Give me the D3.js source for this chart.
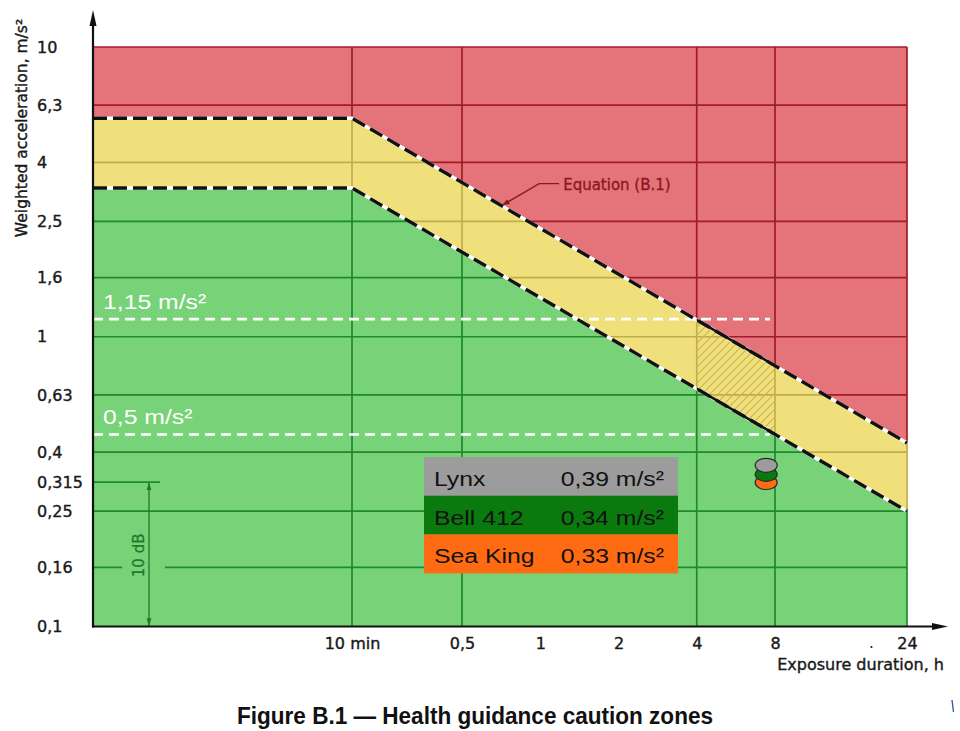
<!DOCTYPE html>
<html><head><meta charset="utf-8">
<script src="https://cdn.jsdelivr.net/npm/d3@7"></script>
<style>body{margin:0;background:#fff;} svg{display:block;}</style>
</head><body><svg id="chart" width="960" height="731"></svg>
<script>
// ---------- data ----------
const yTickValues = [10, 6.3, 4, 2.5, 1.6, 1, 0.63, 0.4, 0.315, 0.25, 0.16, 0.1];
const yTickLabels = ["10", "6,3", "4", "2,5", "1,6", "1", "0,63", "0,4", "0,315", "0,25", "0,16", "0,1"];
const yGridValues = [10, 6.3, 4, 2.5, 1.6, 1, 0.63, 0.4, 0.25];
const xTickValues = [1/6, 0.5, 1, 2, 4, 8, 24];
const xTickLabels = ["10 min", "0,5", "1", "2", "4", "8", "24"];
const xGridValues = [1/6, 0.5, 4, 8, 24];
const xBreaks = [1/60, 1/6, 0.5, 8, 24];           // hours, piecewise log axis
const upperDuration = [1/60, 1/6, 24];
const upperAccel = [5.68, 5.68, 0.43];
const lowerDuration = [1/60, 1/6, 24];
const lowerAccel = [3.26, 3.26, 0.25];
const hatchRange = [4, 8];
const guideValues = [1.15, 0.46];
const guideLabels = ["1,15 m/s²", "0,5 m/s²"];
const guideEnd = 7.65;
const aircraft = ["Lynx", "Bell 412", "Sea King"];
const aircraftValues = ["0,39", "0,34", "0,33"];
const aircraftColors = ["#9c9c9c", "#0a7a0e", "#ff6b12"];
const markerAccel = [0.36, 0.335, 0.314];
const markerDuration = 7.4;

// ---------- layout ----------
const svg = d3.select("#chart");
const xRange = [93, 352, 462, 775, 907];
const x = d3.scaleLog().domain(xBreaks).range(xRange);
const y = d3.scaleLog().domain([0.1, 10]).range([626.5, 47]);
const X0 = x(xBreaks[0]), X1 = x(xBreaks[xBreaks.length - 1]);
const Ytop = y(10), Ybot = y(0.1);

const colRed = "#e4737a", colYel = "#f0e07c", colGrn = "#77d278";
const gridRed = "#a01c28", gridYel = "#c2ad4e", gridGrn = "#1e8a2c";
const numFont = "'DejaVu Sans', sans-serif";
const arial = "'Liberation Sans', Arial, sans-serif";
const ink = "#1a1a1a";

const upperPx = upperDuration.map((t, i) => [x(t), y(upperAccel[i])]);
const lowerPx = lowerDuration.map((t, i) => [x(t), y(lowerAccel[i])]);
function yOnLine(pts, px) {
  for (let i = 0; i < pts.length - 1; i++) {
    const [ax, ay] = pts[i], [bx, by] = pts[i + 1];
    if (px >= ax && px <= bx) return ay + (by - ay) * (px - ax) / (bx - ax);
  }
  return pts[pts.length - 1][1];
}
const poly = p => "M" + p.map(d => d.join(",")).join("L") + "Z";

function zones(pad) {
  const up = upperPx.map(d => d.slice()), lo = lowerPx.map(d => d.slice());
  up[0][0] -= pad; lo[0][0] -= pad; up[up.length-1][0] += pad; lo[lo.length-1][0] += pad;
  return {
    red: [[X0 - pad, Ytop - pad], [X1 + pad, Ytop - pad], ...up.slice().reverse()],
    yel: [...up, ...lo.slice().reverse()],
    grn: [...lo, [X1 + pad, Ybot + pad], [X0 - pad, Ybot + pad]]
  };
}
const Z = zones(0), ZC = zones(4);

const defs = svg.append("defs");
[["clipRed", ZC.red], ["clipYel", ZC.yel], ["clipGrn", ZC.grn]].forEach(([id, p]) => {
  defs.append("clipPath").attr("id", id).append("path").attr("d", poly(p));
});
defs.append("clipPath").attr("id", "clipHatchX").append("rect")
  .attr("x", x(hatchRange[0])).attr("y", 0)
  .attr("width", x(hatchRange[1]) - x(hatchRange[0])).attr("height", 731);
const pat = defs.append("pattern").attr("id", "hatch").attr("patternUnits", "userSpaceOnUse")
  .attr("width", 8).attr("height", 8);
pat.append("path").attr("d", "M0,8L8,0M-2,2L2,-2M6,10L10,6")
  .attr("stroke", "#c9b24c").attr("stroke-width", 1.1);
defs.append("marker").attr("id", "arrRed").attr("viewBox", "0 0 10 10")
  .attr("refX", 9).attr("refY", 5).attr("markerWidth", 7).attr("markerHeight", 7)
  .attr("markerUnits", "userSpaceOnUse").attr("orient", "auto")
  .append("path").attr("d", "M0,1L10,5L0,9Z").attr("fill", "#8c1822");
defs.append("marker").attr("id", "arrGrn").attr("viewBox", "0 0 10 10")
  .attr("refX", 9).attr("refY", 5).attr("markerWidth", 8).attr("markerHeight", 8)
  .attr("markerUnits", "userSpaceOnUse").attr("orient", "auto-start-reverse")
  .append("path").attr("d", "M0,2L10,5L0,8Z").attr("fill", "#1e7a2a");

// zone fills
svg.append("path").attr("d", poly(Z.red)).attr("fill", colRed);
svg.append("path").attr("d", poly(Z.yel)).attr("fill", colYel);
svg.append("path").attr("d", poly(Z.grn)).attr("fill", colGrn);

// grid (coloured by zone)
function drawGrid(clip, color) {
  const g = svg.append("g").attr("clip-path", `url(#${clip})`)
    .attr("stroke", color).attr("stroke-width", 1.7).attr("fill", "none");
  g.selectAll("line.h").data(yGridValues).join("line")
    .attr("x1", X0).attr("x2", X1).attr("y1", d => y(d)).attr("y2", d => y(d));
  g.append("line").attr("x1", X0).attr("x2", X1).attr("y1", y(0.16)).attr("y2", y(0.16))
    .attr("stroke-dasharray", "29,43,2000");
  g.append("line").attr("x1", X0).attr("x2", X0 + 67).attr("y1", y(0.315)).attr("y2", y(0.315));
  g.selectAll("line.v").data(xGridValues).join("line")
    .attr("y1", Ytop).attr("y2", Ybot).attr("x1", d => x(d)).attr("x2", d => x(d));
}
drawGrid("clipRed", gridRed);
drawGrid("clipYel", gridYel);
drawGrid("clipGrn", gridGrn);

// hatch in yellow zone between 4 h and 8 h
svg.append("g").attr("clip-path", "url(#clipYel)")
  .append("rect").attr("x", x(hatchRange[0])).attr("y", Ytop)
  .attr("width", x(hatchRange[1]) - x(hatchRange[0])).attr("height", Ybot - Ytop)
  .attr("fill", "url(#hatch)");

// guidance lines (white dashed)
guideValues.forEach((v, i) => {
  svg.append("line").attr("x1", X0).attr("x2", x(guideEnd)).attr("y1", y(v)).attr("y2", y(v))
    .attr("stroke", "#fff").attr("stroke-width", 2.6).attr("stroke-dasharray", "10,6");
  svg.append("g").attr("transform", `translate(${X0 + 10},${y(v) - 10}) scale(1.18,1)`)
    .append("text").text(guideLabels[i]).attr("fill", "#fff")
    .attr("font-family", arial).attr("font-size", 21);
});

// boundaries (Equation B.1)
const line = d3.line();
[upperPx, lowerPx].forEach(p => {
  svg.append("path").attr("d", line(p)).attr("fill", "none")
    .attr("stroke", "#fff").attr("stroke-width", 3.4);
  svg.append("path").attr("d", line(p)).attr("fill", "none")
    .attr("stroke", "#111").attr("stroke-width", 3.4).attr("stroke-dasharray", "14,6");
  svg.append("g").attr("clip-path", "url(#clipHatchX)")
    .append("path").attr("d", line(p)).attr("fill", "none")
    .attr("stroke", "#111").attr("stroke-width", 2.6);
});

// Equation label with leader
const eqT = 0.72;
const tipX = x(eqT), tipY = yOnLine(upperPx, tipX) - 2;
svg.append("path").attr("d", `M${tipX + 56},${tipY - 21}L${tipX + 36},${tipY - 21}L${tipX},${tipY}`)
  .attr("fill", "none").attr("stroke", "#8c1822").attr("stroke-width", 1.4)
  .attr("marker-end", "url(#arrRed)");
svg.append("text").text("Equation (B.1)").attr("x", tipX + 60).attr("y", tipY - 15)
  .attr("fill", "#8c1822").attr("stroke", "#8c1822").attr("stroke-width", 0.35)
  .attr("font-family", numFont).attr("font-size", 15);

// 10 dB annotation
svg.append("line").attr("x1", 149).attr("x2", 149).attr("y1", y(0.315) + 1).attr("y2", Ybot - 1)
  .attr("stroke", "#1e7a2a").attr("stroke-width", 1.3)
  .attr("marker-start", "url(#arrGrn)").attr("marker-end", "url(#arrGrn)");
svg.append("text").text("10 dB").attr("transform", `translate(144,${y(0.16) - 12}) rotate(-90)`)
  .attr("text-anchor", "middle").attr("fill", "#1e7a2a").attr("stroke", "#1e7a2a").attr("stroke-width", 0.3)
  .attr("font-family", numFont).attr("font-size", 15);

// axes
const yAxis = svg.append("g").attr("transform", `translate(${X0},0)`)
  .call(d3.axisLeft(y).tickValues(yTickValues).tickFormat((d, i) => yTickLabels[i]).tickSize(0));
yAxis.select(".domain").remove();
yAxis.selectAll("text").attr("text-anchor", "start").attr("x", 37 - X0)
  .attr("font-family", numFont).attr("font-size", 16).attr("fill", ink)
  .attr("stroke", ink).attr("stroke-width", 0.4);

const xAxis = svg.append("g").attr("transform", `translate(0,${Ybot})`)
  .call(d3.axisBottom(x).tickValues(xTickValues).tickFormat((d, i) => xTickLabels[i]).tickSize(0).tickPadding(11));
xAxis.select(".domain").remove();
xAxis.selectAll("text").attr("font-family", numFont).attr("font-size", 16).attr("fill", ink)
  .attr("stroke", ink).attr("stroke-width", 0.4);

svg.append("line").attr("x1", X0).attr("x2", X0).attr("y1", Ybot + 1).attr("y2", 22)
  .attr("stroke", "#111").attr("stroke-width", 2.2);
svg.append("path").attr("d", `M${X0 - 3.5},26L${X0},10L${X0 + 3.5},26Z`).attr("fill", "#111");
svg.append("line").attr("x1", X0 - 1).attr("x2", 936).attr("y1", Ybot).attr("y2", Ybot)
  .attr("stroke", "#111").attr("stroke-width", 2.2);
svg.append("path").attr("d", `M932,${Ybot - 3.5}L948,${Ybot}L932,${Ybot + 3.5}Z`).attr("fill", "#111");

svg.append("text").text("Weighted acceleration, m/s²")
  .attr("transform", "translate(27,128) rotate(-90)").attr("text-anchor", "middle")
  .attr("font-family", numFont).attr("font-size", 15.5).attr("fill", ink)
  .attr("stroke", ink).attr("stroke-width", 0.4);
svg.append("text").text("Exposure duration, h").attr("x", 944).attr("y", 670)
  .attr("text-anchor", "end").attr("font-family", numFont).attr("font-size", 16).attr("fill", ink)
  .attr("stroke", ink).attr("stroke-width", 0.4);
svg.append("text").text(".").attr("x", 869).attr("y", 648)
  .attr("font-family", numFont).attr("font-size", 15).attr("fill", ink);

// legend table
const lg = svg.append("g");
aircraft.forEach((name, i) => {
  const top = 457 + i * 38.7;
  lg.append("rect").attr("x", 424).attr("y", top).attr("width", 254).attr("height", 39)
    .attr("fill", aircraftColors[i]);
  lg.append("g").attr("transform", `translate(434,${top + 29}) scale(1.18,1)`)
    .append("text").text(name).attr("font-family", arial).attr("font-size", 21).attr("fill", "#111");
  lg.append("g").attr("transform", `translate(664,${top + 29}) scale(1.18,1)`)
    .append("text").text(aircraftValues[i] + " m/s²").attr("text-anchor", "end")
    .attr("font-family", arial).attr("font-size", 21).attr("fill", "#111");
});

// markers (drawn bottom first)
const order = [2, 1, 0];
svg.selectAll("ellipse.mk").data(order).join("ellipse")
  .attr("cx", x(markerDuration)).attr("cy", i => y(markerAccel[i]))
  .attr("rx", 11).attr("ry", 7)
  .attr("fill", i => aircraftColors[i]).attr("stroke", "#2a2a2a").attr("stroke-width", 1.2);

// title
svg.append("text").text("Figure B.1 — Health guidance caution zones")
  .attr("x", 475).attr("y", 724).attr("text-anchor", "middle")
  .attr("font-family", "'Liberation Sans Narrow', 'Arial Narrow', 'Liberation Sans', sans-serif")
  .attr("font-weight", "bold").attr("font-size", 23).attr("fill", "#111")
  .attr("textLength", 476).attr("lengthAdjust", "spacingAndGlyphs");
svg.append("path").attr("d", "M952,700L953.5,712").attr("stroke", "#3a5a9a").attr("stroke-width", 1.4);
</script></body></html>
